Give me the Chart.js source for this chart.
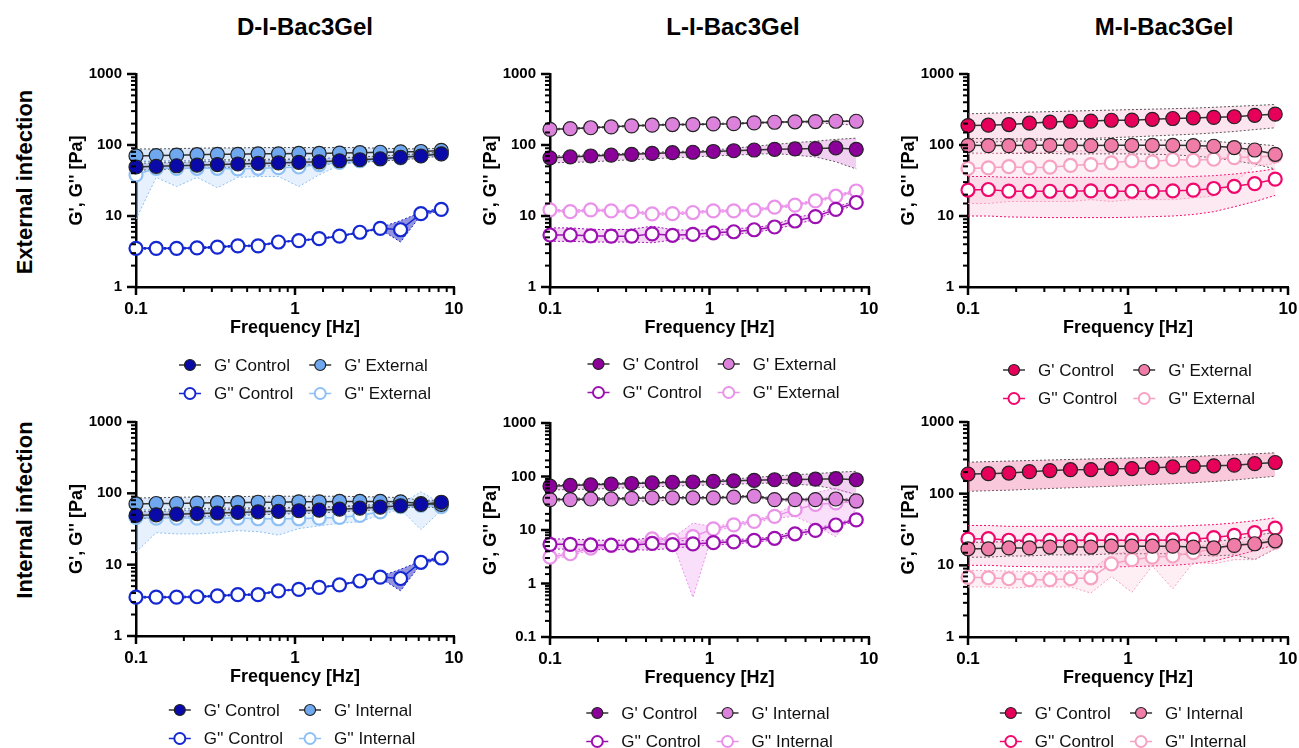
<!DOCTYPE html>
<html>
<head>
<meta charset="utf-8">
<script src="https://cdn.jsdelivr.net/npm/chart.js@4.4.1/dist/chart.umd.min.js"></script>
<style>
  body { margin: 0; width: 1299px; height: 748px; overflow: hidden; background: #fff;
         font-family: Arial, "Liberation Sans", sans-serif; position: relative; }
  canvas { position: absolute; }
  .coltitle { position: absolute; top: 13px; width: 300px; margin-left: -150px; text-align: center;
              font-weight: bold; font-size: 24px; color: #000; }
  .rowtitle { position: absolute; left: 25px; width: 260px; margin-left: -130px; text-align: center;
              font-weight: bold; font-size: 22px; color: #000; transform: rotate(-90deg);
              white-space: nowrap; line-height: 26px; margin-top: -13px; }
</style>
</head>
<body>
<div class="coltitle" style="left:305px">D-I-Bac3Gel</div>
<div class="coltitle" style="left:733px">L-I-Bac3Gel</div>
<div class="coltitle" style="left:1164px">M-I-Bac3Gel</div>
<div class="rowtitle" style="top:182px">External infection</div>
<div class="rowtitle" style="top:510px">Internal infection</div>

<canvas id="c1"></canvas>
<canvas id="c2"></canvas>
<canvas id="c3"></canvas>
<canvas id="c4"></canvas>
<canvas id="c5"></canvas>
<canvas id="c6"></canvas>

<script>
const FONT = 'Arial, "Liberation Sans", sans-serif';

// Oscillation frequency [Hz], same sweep for every sample
const FREQ = [0.1, 0.134, 0.180, 0.242, 0.325, 0.437, 0.586, 0.787, 1.057, 1.419, 1.905, 2.559, 3.436, 4.613, 6.194, 8.318];

// ---- D-I-Bac3Gel (blue) ----
const D_GP_CTRL = [49, 50, 51, 52, 53, 54, 55, 56, 57, 58, 60, 62, 64, 67, 70, 75];
const D_GP_CTRL_HI = [55, 56, 57, 58, 59, 60, 61, 62, 63, 64, 66, 68, 70, 73, 76, 80];
const D_GP_CTRL_LO = [44, 45, 46, 47, 48, 49, 50, 51, 52, 53, 55, 57, 59, 62, 65, 70];
const D_GPP_CTRL = [3.5, 3.5, 3.5, 3.55, 3.65, 3.8, 3.8, 4.3, 4.5, 4.8, 5.2, 5.9, 6.7, 6.4, 10.8, 12.4];
const D_GPP_CTRL_HI = [3.6, 3.6, 3.6, 3.65, 3.75, 3.9, 3.9, 4.4, 4.6, 4.9, 5.3, 6.0, 6.9, 8.6, 11.3, 13.0];
const D_GPP_CTRL_LO = [3.4, 3.4, 3.4, 3.45, 3.55, 3.7, 3.7, 4.2, 4.4, 4.7, 5.1, 5.8, 6.5, 4.3, 10.3, 11.8];
const D_GP_EXT = [70, 71, 72, 73, 74, 74, 75, 75, 76, 76, 77, 78, 79, 80, 81, 84];
const D_GP_EXT_HI = [88, 88, 89, 90, 91, 91, 92, 92, 92, 92, 92, 92, 90, 89, 88, 90];
const D_GP_EXT_LO = [58, 59, 60, 61, 62, 62, 63, 63, 64, 64, 66, 68, 70, 72, 74, 78];
const D_GPP_EXT = [38, 47, 47, 47, 47, 46, 47, 48, 49, 53, 57, 60, 63, 66, 70, 75];
const D_GPP_EXT_HI = [60, 59, 60, 60, 60, 58, 58, 60, 62, 66, 65, 63, 65, 68, 72, 78];
const D_GPP_EXT_LO = [9, 35, 26, 35, 25, 35, 36, 36, 26, 38, 52, 58, 62, 65, 69, 73];
const D_GP_INT = [71, 72, 72, 73, 74, 74, 75, 75, 76, 76, 77, 77, 77, 76, 72, 70];
const D_GP_INT_HI = [86, 87, 88, 89, 90, 90, 91, 91, 91, 91, 91, 90, 89, 87, 80, 80];
const D_GP_INT_LO = [58, 59, 60, 61, 62, 62, 63, 63, 64, 64, 65, 66, 66, 66, 65, 62];
const D_GPP_INT = [46, 45, 45, 45, 45, 45, 44, 44, 44, 45, 46, 49, 55, 65, 68, 65];
const D_GPP_INT_HI = [60, 58, 58, 58, 58, 58, 57, 57, 57, 58, 58, 60, 62, 70, 105, 72];
const D_GPP_INT_LO = [15, 28, 27, 27, 28, 30, 29, 26, 32, 35, 38, 40, 50, 60, 31, 58];

// ---- L-I-Bac3Gel (purple) ----
const L_GP_CTRL = [66, 68, 70, 72, 74, 76, 78, 79, 81, 83, 85, 87, 88, 89, 91, 87];
const L_GP_CTRL_HI = [70, 71, 73, 75, 77, 79, 81, 82, 85, 90, 96, 102, 108, 113, 120, 125];
const L_GP_CTRL_LO = [56, 57, 58, 60, 62, 64, 66, 68, 70, 72, 74, 76, 72, 68, 58, 46];
const L_GPP_CTRL = [5.4, 5.4, 5.25, 5.2, 5.2, 5.6, 5.35, 5.5, 5.8, 6.0, 6.4, 7.0, 8.5, 9.8, 12.4, 15.5];
const L_GPP_CTRL_HI = [6.8, 6.8, 6.5, 6.4, 6.5, 7.2, 6.4, 6.3, 6.4, 6.6, 6.9, 7.5, 9.6, 10.6, 13.3, 16.5];
const L_GPP_CTRL_LO = [4.4, 4.4, 4.3, 4.3, 4.3, 4.2, 4.6, 4.9, 5.3, 5.5, 5.9, 6.5, 7.6, 9.0, 11.6, 14.5];
const L_GP_EXT = [166, 170, 175, 180, 186, 190, 194, 194, 198, 200, 205, 209, 212, 214, 216, 216];
const L_GP_EXT_HI = [170, 174, 179, 184, 190, 194, 198, 198, 202, 204, 209, 213, 216, 218, 220, 220];
const L_GP_EXT_LO = [162, 166, 171, 176, 182, 186, 190, 190, 194, 196, 201, 205, 208, 205, 198, 190];
const L_GPP_EXT = [12.2, 11.5, 12.2, 11.8, 11.5, 10.7, 10.8, 11.2, 11.8, 11.8, 12.1, 13.3, 14.2, 16.3, 19.0, 22.5];
const L_GPP_EXT_HI = [12.7, 12.0, 12.7, 12.3, 12.0, 11.2, 11.3, 11.7, 12.3, 12.3, 12.6, 13.9, 14.8, 17.0, 19.8, 23.4];
const L_GPP_EXT_LO = [11.7, 11.0, 11.7, 11.3, 11.0, 10.2, 10.3, 10.7, 11.3, 11.3, 11.6, 12.7, 13.6, 15.6, 18.2, 21.6];
const L_GP_INT = [37, 37, 38, 38, 39, 40, 40, 40, 40, 41, 43, 37, 37, 37, 38, 35];
const L_GP_INT_HI = [39, 39, 40, 40, 41, 42, 42, 42, 42, 43, 45, 39, 39, 39, 40, 37];
const L_GP_INT_LO = [35, 35, 36, 36, 37, 33, 38, 38, 38, 39, 41, 35, 35, 35, 36, 33];
const L_GPP_INT = [3.1, 3.6, 4.6, 5.1, 5.2, 6.8, 6.5, 7.5, 10.5, 12.5, 14.5, 18, 24, 30, 32, 34];
const L_GPP_INT_HI = [3.4, 3.9, 5.0, 5.5, 5.6, 7.5, 7.0, 13.5, 11.5, 13.5, 15.5, 19.5, 30, 50, 60, 45];
const L_GPP_INT_LO = [2.8, 3.3, 4.2, 4.7, 4.8, 6.0, 6.0, 0.55, 9.5, 11.5, 13.5, 16.5, 18, 12, 7.5, 25];

// ---- M-I-Bac3Gel (pink) ----
const M_GP_CTRL = [188, 190, 194, 203, 210, 216, 217, 223, 224, 230, 236, 241, 245, 250, 262, 272];
const M_GP_CTRL_HI = [275, 280, 285, 290, 295, 300, 305, 310, 315, 320, 325, 330, 340, 350, 360, 372];
const M_GP_CTRL_LO = [108, 110, 112, 115, 118, 121, 124, 127, 130, 134, 138, 142, 148, 155, 165, 175];
const M_GPP_CTRL = [23.2, 23.6, 22.4, 22.3, 22.3, 22.3, 22.6, 22.3, 22.3, 22.3, 22.6, 23.1, 24.4, 26.2, 28.6, 33];
const M_GPP_CTRL_HI = [36, 36, 35, 35, 35, 35, 35, 35, 35, 35, 35, 36, 37, 39, 42, 46];
const M_GPP_CTRL_LO = [10, 10, 9.7, 9.6, 9.5, 9.5, 9.5, 9.5, 9.6, 9.8, 10, 10.5, 11.5, 13.5, 16, 19.5];
const M_GP_EXT = [99, 98, 98, 99, 99, 99, 98, 99, 99, 99, 99, 98, 96, 92, 85, 74];
const M_GP_EXT_HI = [124, 123, 122, 122, 122, 121, 120, 120, 119, 118, 117, 115, 112, 108, 103, 98];
const M_GP_EXT_LO = [77, 76, 76, 76, 76, 75, 75, 75, 75, 74, 73, 70, 66, 60, 54, 46];
const M_GPP_EXT = [46.7, 47.7, 49.5, 47.7, 48.7, 51.5, 53, 56, 60, 58, 62.5, 61, 63, 66.5, 68, 70];
const M_GPP_EXT_HI = [75, 76, 78, 78, 80, 82, 84, 86, 88, 88, 88, 88, 90, 85, 80, 80];
const M_GPP_EXT_LO = [15, 15, 16, 16, 16, 16, 17, 16, 17, 17, 17, 18, 19, 30, 50, 55];
const M_GP_INT = [17, 17, 17.5, 17.5, 18, 18, 18, 18.5, 18.5, 18.5, 18.5, 18, 17.5, 19, 20, 22];
const M_GP_INT_HI = [21, 21, 21.5, 21.5, 22, 22, 22, 22.5, 22.5, 22.5, 22.5, 22, 21.5, 23, 26, 29];
const M_GP_INT_LO = [13, 13, 13.5, 13.5, 14, 14, 14, 14.5, 14.5, 14.5, 14.5, 14, 13.5, 14, 12, 17];
const M_GPP_INT = [6.8, 6.7, 6.5, 6.3, 6.3, 6.5, 6.7, 10.5, 12, 13, 13.5, 15, 17, 18.5, 20, 21];
const M_GPP_INT_HI = [8.5, 8.5, 8.3, 8.2, 8.2, 8.4, 8.6, 14, 16, 17, 18, 18.5, 19, 20.5, 22, 24];
const M_GPP_INT_LO = [5, 5, 4.8, 5, 5, 5, 4.1, 7, 4.2, 9.8, 4.7, 11, 10.5, 12, 12, 17];

// Colours per gel: G' control, G' treated, G'' control, G'' treated, and band fills
const BLUE = {
  gpCtrl: "#0a0aa8", gpOther: "#6fa8ee", gppCtrl: "#1428d2", gppOther: "#8ec0f6",
  bandGpCtrl: "rgba(30,40,170,0.22)", bandGppCtrl: "rgba(40,40,190,0.5)",
  bandGpOther: "rgba(111,168,238,0.25)", bandGppOther: "rgba(142,192,246,0.22)",
};
const PURPLE = {
  gpCtrl: "#8a0099", gpOther: "#dc82dc", gppCtrl: "#9c10b2", gppOther: "#ea92ea",
  bandGpCtrl: "rgba(215,120,215,0.35)", bandGppCtrl: "rgba(215,120,215,0.3)",
  bandGpOther: "rgba(225,140,225,0.3)", bandGppOther: "rgba(235,150,235,0.3)",
};
const PINK = {
  gpCtrl: "#e6005a", gpOther: "#f07ca8", gppCtrl: "#f0086c", gppOther: "#f7a2c2",
  bandGpCtrl: "rgba(240,110,160,0.18)", bandGppCtrl: "rgba(240,110,160,0.15)",
  bandGpOther: "rgba(240,120,165,0.15)", bandGppOther: "rgba(245,150,185,0.15)",
};

// plot areas in page pixels, and legend offsets below each plot
const PANELS = [
  { id: "c1", left: 136, top: 74, w: 318, h: 213, ymin: 1, pal: BLUE, other: "External", legend: [10, 78],
    gp: [D_GP_CTRL, D_GP_CTRL_HI, D_GP_CTRL_LO], gpp: [D_GPP_CTRL, D_GPP_CTRL_HI, D_GPP_CTRL_LO],
    gpO: [D_GP_EXT, D_GP_EXT_HI, D_GP_EXT_LO], gppO: [D_GPP_EXT, D_GPP_EXT_HI, D_GPP_EXT_LO] },
  { id: "c2", left: 550, top: 74, w: 319, h: 213, ymin: 1, pal: PURPLE, other: "External", legend: [4, 77],
    gp: [L_GP_CTRL, L_GP_CTRL_HI, L_GP_CTRL_LO], gpp: [L_GPP_CTRL, L_GPP_CTRL_HI, L_GPP_CTRL_LO],
    gpO: [L_GP_EXT, L_GP_EXT_HI, L_GP_EXT_LO], gppO: [L_GPP_EXT, L_GPP_EXT_HI, L_GPP_EXT_LO] },
  { id: "c3", left: 968, top: 74, w: 320, h: 213, ymin: 1, pal: PINK, other: "External", legend: [1, 83],
    gp: [M_GP_CTRL, M_GP_CTRL_HI, M_GP_CTRL_LO], gpp: [M_GPP_CTRL, M_GPP_CTRL_HI, M_GPP_CTRL_LO],
    gpO: [M_GP_EXT, M_GP_EXT_HI, M_GP_EXT_LO], gppO: [M_GPP_EXT, M_GPP_EXT_HI, M_GPP_EXT_LO] },
  { id: "c4", left: 136, top: 422, w: 318, h: 214, ymin: 1, pal: BLUE, other: "Internal", legend: [-3, 74],
    gp: [D_GP_CTRL, D_GP_CTRL_HI, D_GP_CTRL_LO], gpp: [D_GPP_CTRL, D_GPP_CTRL_HI, D_GPP_CTRL_LO],
    gpO: [D_GP_INT, D_GP_INT_HI, D_GP_INT_LO], gppO: [D_GPP_INT, D_GPP_INT_HI, D_GPP_INT_LO] },
  { id: "c5", left: 550, top: 423, w: 319, h: 214, ymin: 0.1, pal: PURPLE, other: "Internal", legend: [0, 76],
    gp: [L_GP_CTRL, L_GP_CTRL_HI, L_GP_CTRL_LO], gpp: [L_GPP_CTRL, L_GPP_CTRL_HI, L_GPP_CTRL_LO],
    gpO: [L_GP_INT, L_GP_INT_HI, L_GP_INT_LO], gppO: [L_GPP_INT, L_GPP_INT_HI, L_GPP_INT_LO] },
  { id: "c6", left: 968, top: 422, w: 320, h: 215, ymin: 1, pal: PINK, other: "Internal", legend: [-5, 76],
    ctrlBand: "rgba(240,110,160,0.38)",
    gp: [M_GP_CTRL, M_GP_CTRL_HI, M_GP_CTRL_LO], gpp: [M_GPP_CTRL, M_GPP_CTRL_HI, M_GPP_CTRL_LO],
    gpO: [M_GP_INT, M_GP_INT_HI, M_GP_INT_LO], gppO: [M_GPP_INT, M_GPP_INT_HI, M_GPP_INT_LO] },
];

// canvas margins around the plot area
const PAD_TOP = 24, PAD_RIGHT = 22, Y_AXIS_W = 80, X_AXIS_H = 56, LEGEND_H = 64;

const isDecade = (v) => Math.abs(Math.log10(v) - Math.round(Math.log10(v))) < 1e-9;
const pts = (vals) => FREQ.map((f, i) => ({ x: f, y: vals[i] }));

// Short major / shorter minor tick marks outside the axes
const tickMarks = {
  id: "tickMarks",
  afterDraw(chart) {
    const { ctx } = chart;
    const xs = chart.scales.x, ys = chart.scales.y;
    ctx.save();
    ctx.strokeStyle = "#000";
    xs.ticks.forEach((t) => {
      const px = xs.getPixelForValue(t.value);
      const major = isDecade(t.value);
      ctx.lineWidth = major ? 2.5 : 2;
      ctx.beginPath();
      ctx.moveTo(px, ys.bottom);
      ctx.lineTo(px, ys.bottom + (major ? 8 : 5));
      ctx.stroke();
    });
    ys.ticks.forEach((t) => {
      const py = ys.getPixelForValue(t.value);
      const major = isDecade(t.value);
      ctx.lineWidth = major ? 2.5 : 2;
      ctx.beginPath();
      ctx.moveTo(xs.left, py);
      ctx.lineTo(xs.left - (major ? 9 : 5), py);
      ctx.stroke();
    });
    ctx.restore();
  },
};

// 2 x 2 legend under the x axis title
const gridLegend = {
  id: "gridLegend",
  afterDraw(chart, args, opts) {
    const { ctx, chartArea } = chart;
    const items = opts.items;
    ctx.save();
    ctx.font = "17px " + FONT;
    const w1 = Math.max(ctx.measureText(items[0].label).width, ctx.measureText(items[2].label).width);
    const total = 22 + 13 + w1 + 16 + 22 + 13 +
      Math.max(ctx.measureText(items[1].label).width, ctx.measureText(items[3].label).width);
    const x0 = (chartArea.left + chartArea.right) / 2 + opts.dx - total / 2;
    const cols = [x0, x0 + 22 + 13 + w1 + 16];
    items.forEach((it, i) => {
      const x = cols[i % 2];
      const y = chartArea.bottom + opts.dy + (i > 1 ? 28.5 : 0);
      ctx.strokeStyle = it.line;
      ctx.lineWidth = 1.5;
      ctx.beginPath();
      ctx.moveTo(x, y);
      ctx.lineTo(x + 22, y);
      ctx.stroke();
      ctx.beginPath();
      ctx.arc(x + 11, y, 5.5, 0, Math.PI * 2);
      ctx.fillStyle = it.fill;
      ctx.fill();
      ctx.strokeStyle = it.stroke;
      ctx.lineWidth = it.open ? 2 : 1.2;
      ctx.stroke();
      ctx.fillStyle = "#111";
      ctx.textAlign = "left";
      ctx.textBaseline = "middle";
      ctx.fillText(it.label, x + 35, y + 1);
    });
    ctx.restore();
  },
};

function bandSets(hi, lo, fillColor, lineColor) {
  const common = { borderColor: lineColor, borderWidth: 1, borderDash: [2, 2], pointRadius: 0,
                   tension: 0, order: 10 };
  return [
    Object.assign({ data: pts(hi), fill: "+1", backgroundColor: fillColor }, common),
    Object.assign({ data: pts(lo), fill: false }, common),
  ];
}

function mainSet(label, vals, color, open, order) {
  return {
    label: label,
    data: pts(vals),
    borderColor: open ? color : "#333",
    borderWidth: 1.5,
    tension: 0,
    fill: false,
    clip: false,
    order: order,
    pointRadius: open ? 6.5 : 7,
    pointBackgroundColor: open ? "#fff" : color,
    pointBorderColor: open ? color : "#222",
    pointBorderWidth: open ? 2.2 : 1.2,
  };
}

function makePanel(p) {
  const c = p.pal;
  const canvas = document.getElementById(p.id);
  canvas.width = Y_AXIS_W + p.w + PAD_RIGHT;
  canvas.height = PAD_TOP + p.h + X_AXIS_H + LEGEND_H;
  canvas.style.left = p.left - Y_AXIS_W + "px";
  canvas.style.top = p.top - PAD_TOP + "px";

  const datasets = [].concat(
    bandSets(p.gppO[1], p.gppO[2], c.bandGppOther, c.gppOther),
    bandSets(p.gpp[1], p.gpp[2], c.bandGppCtrl, c.gppCtrl),
    bandSets(p.gpO[1], p.gpO[2], c.bandGpOther, "#555"),
    bandSets(p.gp[1], p.gp[2], p.ctrlBand || c.bandGpCtrl, "#555"),
    [
      mainSet("G'' " + p.other, p.gppO[0], c.gppOther, true, 4),
      mainSet("G'' Control", p.gpp[0], c.gppCtrl, true, 3),
      mainSet("G' " + p.other, p.gpO[0], c.gpOther, false, 2),
      mainSet("G' Control", p.gp[0], c.gpCtrl, false, 1),
    ]
  );

  const legendItems = [
    { label: "G' Control", line: "#333", fill: c.gpCtrl, stroke: "#222", open: false },
    { label: "G' " + p.other, line: "#333", fill: c.gpOther, stroke: "#222", open: false },
    { label: "G'' Control", line: c.gppCtrl, fill: "#fff", stroke: c.gppCtrl, open: true },
    { label: "G'' " + p.other, line: c.gppOther, fill: "#fff", stroke: c.gppOther, open: true },
  ];

  new Chart(canvas, {
    type: "line",
    data: { datasets: datasets },
    options: {
      responsive: false,
      animation: false,
      events: [],
      layout: { padding: { top: PAD_TOP, right: PAD_RIGHT, bottom: LEGEND_H, left: 0 } },
      plugins: {
        legend: { display: false },
        tooltip: { enabled: false },
        gridLegend: { items: legendItems, dx: p.legend[0], dy: p.legend[1] },
      },
      scales: {
        x: {
          type: "logarithmic", min: 0.1, max: 10,
          grid: { display: false, drawTicks: false },
          border: { color: "#000", width: 2.5 },
          ticks: { autoSkip: false, maxRotation: 0, padding: 12, color: "#000",
                   font: { size: 17, weight: "bold", family: FONT },
                   callback: (v) => (isDecade(v) ? String(v) : "") },
          title: { display: true, text: "Frequency [Hz]", color: "#000",
                   font: { size: 18, weight: "bold", family: FONT }, padding: { top: 0, bottom: 4 } },
          afterFit: (s) => { s.height = X_AXIS_H; },
        },
        y: {
          type: "logarithmic", min: p.ymin, max: 1000,
          grid: { display: false, drawTicks: false },
          border: { color: "#000", width: 2.5 },
          ticks: { autoSkip: false, padding: 14, color: "#000",
                   font: { size: 15, weight: "bold", family: FONT },
                   callback: (v) => (isDecade(v) ? String(v) : "") },
          title: { display: true, text: "G', G'' [Pa]", color: "#000",
                   font: { size: 18, weight: "bold", family: FONT }, padding: { top: 10, bottom: 0 } },
          afterFit: (s) => { s.width = Y_AXIS_W; },
        },
      },
    },
    plugins: [tickMarks, gridLegend],
  });
}

PANELS.forEach(makePanel);
</script>
</body>
</html>
